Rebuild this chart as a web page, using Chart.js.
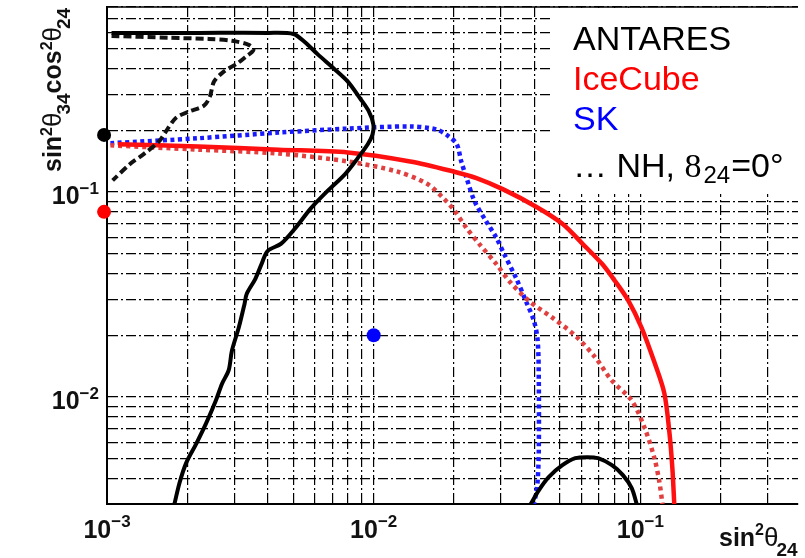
<!DOCTYPE html>
<html>
<head>
<meta charset="utf-8">
<script src="https://cdn.jsdelivr.net/npm/chart.js@4.4.1/dist/chart.umd.min.js"></script>
<style>
  html, body { margin: 0; padding: 0; background: #fff; }
  canvas { display: block; }
</style>
</head>
<body>
<canvas id="chart" width="805" height="558"></canvas>
<script>
// values (log-log)
const antaresX = [0.00104, 0.0022, 0.0040, 0.0050, 0.0055, 0.0062, 0.0071, 0.0080, 0.0089, 0.0096, 0.00997, 0.0099, 0.0095, 0.0087, 0.0078, 0.0067, 0.0058, 0.0051, 0.0045, 0.0040, 0.0038, 0.0036, 0.00334, 0.00328, 0.00312, 0.00294, 0.00286, 0.0027, 0.00256, 0.00235, 0.00216, 0.00198, 0.00187, 0.00179];
const antaresY = [0.598, 0.598, 0.598, 0.591, 0.541, 0.467, 0.400, 0.346, 0.286, 0.247, 0.214, 0.191, 0.171, 0.146, 0.122, 0.101, 0.083, 0.067, 0.056, 0.0515, 0.0446, 0.0377, 0.0318, 0.0285, 0.0218, 0.0168, 0.0135, 0.0116, 0.0096, 0.0074, 0.0059, 0.00475, 0.0038, 0.0030];

const arcX = [0.0388, 0.0416, 0.0453, 0.0510, 0.0570, 0.0632, 0.0694, 0.0782, 0.0860, 0.0928, 0.0969];
const arcY = [0.0030, 0.0035, 0.00406, 0.00464, 0.00502, 0.00508, 0.00502, 0.00464, 0.00415, 0.00359, 0.0030];

const nhX = [0.00104, 0.00171, 0.00241, 0.00294, 0.0034, 0.00354, 0.00331, 0.00307, 0.00274, 0.00252, 0.00243, 0.00231, 0.00203, 0.00182, 0.00169, 0.00157, 0.00138, 0.00122, 0.00105];
const nhY = [0.578, 0.566, 0.559, 0.547, 0.523, 0.494, 0.457, 0.423, 0.387, 0.346, 0.292, 0.264, 0.247, 0.231, 0.204, 0.177, 0.154, 0.137, 0.114];

const skX = [0.00103, 0.0022, 0.0044, 0.0080, 0.0137, 0.0172, 0.0191, 0.0205, 0.0213, 0.0223, 0.0239, 0.0264, 0.0288, 0.0308, 0.0342, 0.0372, 0.0399, 0.0412, 0.0416, 0.0416, 0.0412, 0.0405, 0.0399];
const skY = [0.173, 0.183, 0.195, 0.204, 0.209, 0.202, 0.187, 0.171, 0.141, 0.117, 0.090, 0.072, 0.060, 0.050, 0.038, 0.0294, 0.0235, 0.0188, 0.0120, 0.0055, 0.0039, 0.0033, 0.0030];

const icX = [0.0011, 0.0022, 0.0044, 0.0080, 0.0137, 0.0199, 0.0243, 0.0306, 0.0405, 0.0510, 0.0606, 0.0718, 0.0803, 0.0897, 0.101, 0.113, 0.123, 0.1285, 0.1318, 0.134];
const icY = [0.171, 0.167, 0.161, 0.156, 0.141, 0.126, 0.117, 0.103, 0.085, 0.070, 0.056, 0.0446, 0.0368, 0.0298, 0.0218, 0.0147, 0.0104, 0.0067, 0.0045, 0.0030];

const icNhX = [0.00103, 0.0022, 0.0044, 0.0080, 0.0122, 0.0158, 0.0183, 0.0201, 0.0223, 0.0249, 0.0288, 0.0322, 0.0382, 0.0469, 0.0570, 0.0677, 0.0782, 0.0928, 0.104, 0.113, 0.118, 0.121];
const icNhY = [0.169, 0.161, 0.154, 0.141, 0.126, 0.110, 0.093, 0.081, 0.0666, 0.0557, 0.0446, 0.0368, 0.0294, 0.0243, 0.0199, 0.0156, 0.0120, 0.0096, 0.0070, 0.0050, 0.0038, 0.0030];

// best fit points (ANTARES, IceCube, SK)
const dotX = [0.000975, 0.000975, 0.01];
const dotY = [0.19, 0.08, 0.02];
const dotColors = ['#000000', '#ff0000', '#0000ff'];

// grid + tick labels
const xGrid = [0.001, 0.002, 0.003, 0.004, 0.005, 0.006, 0.007, 0.008, 0.009,
               0.01, 0.02, 0.03, 0.04, 0.05, 0.06, 0.07, 0.08, 0.09, 0.1, 0.2, 0.3];
const yGrid = [0.003, 0.004, 0.005, 0.006, 0.007, 0.008, 0.009,
               0.01, 0.02, 0.03, 0.04, 0.05, 0.06, 0.07, 0.08, 0.09,
               0.1, 0.2, 0.3, 0.4, 0.5, 0.6, 0.7, 0.8];
const xMajor = [0.001, 0.01, 0.1];
const xMajorExp = ['\u22123', '\u22122', '\u22121'];
const yMajor = [0.01, 0.1];
const yMajorExp = ['\u22122', '\u22121'];

const legendText = ['ANTARES', 'IceCube', 'SK'];
const legendColors = ['#000000', '#ff0000', '#0000ff'];

function pts(xs, ys) {
    return xs.map((x, i) => ({ x: x, y: ys[i] }));
}

function line(data, color, width, dash) {
    return {
        type: 'line',
        data: data,
        borderColor: color,
        borderWidth: width,
        borderDash: dash || [],
        pointRadius: 0,
        fill: false,
        tension: 0.3
    };
}

const sans = "'Liberation Sans', Arial, sans-serif";

// text drawn by hand: superscripts, legend box, titles
const decorations = {
    id: 'decorations',
    beforeDatasetsDraw(chart) {
        const ctx = chart.ctx;
        const a = chart.chartArea;
        ctx.save();
        ctx.fillStyle = '#ffffff';
        ctx.fillRect(553, a.top + 1, a.right - 553, 193 - a.top);
        ctx.strokeStyle = '#000';
        ctx.lineWidth = 1.5;
        ctx.beginPath();
        ctx.moveTo(a.left, a.top);
        ctx.lineTo(a.right, a.top);
        ctx.stroke();
        ctx.restore();
    },
    afterDraw(chart) {
        const ctx = chart.ctx;
        const xs = chart.scales.x, ys = chart.scales.y;
        ctx.save();
        ctx.fillStyle = '#111';
        ctx.textBaseline = 'alphabetic';

        // x tick labels
        xMajor.forEach((v, i) => {
            const px = xs.getPixelForValue(v);
            ctx.font = 'bold 25px ' + sans;
            const w1 = ctx.measureText('10').width;
            ctx.font = 'bold 17px ' + sans;
            const w2 = ctx.measureText(xMajorExp[i]).width;
            const x0 = px - (w1 + w2) / 2;
            ctx.font = 'bold 25px ' + sans;
            ctx.fillText('10', x0, 538);
            ctx.font = 'bold 17px ' + sans;
            ctx.fillText(xMajorExp[i], x0 + w1, 527);
        });

        // y tick labels
        yMajor.forEach((v, i) => {
            const py = ys.getPixelForValue(v);
            ctx.font = 'bold 17px ' + sans;
            const w2 = ctx.measureText(yMajorExp[i]).width;
            ctx.font = 'bold 25px ' + sans;
            const w1 = ctx.measureText('10').width;
            const x0 = 99 - w1 - w2;
            ctx.fillText('10', x0, py + 12);
            ctx.font = 'bold 17px ' + sans;
            ctx.fillText(yMajorExp[i], x0 + w1, py + 2);
        });

        // axis titles
        const title = [
            ['sin', 'bold 25px ' + sans, 0],
            ['2', 'bold 16px ' + sans, -9],
            ['\u03b8', '26px ' + sans, 0],
            ['34', 'bold 19px ' + sans, 9],
            ['cos', 'bold 25px ' + sans, 0],
            ['2', 'bold 16px ' + sans, -9],
            ['\u03b8', '26px ' + sans, 0],
            ['24', 'bold 19px ' + sans, 9]
        ];
        ctx.save();
        ctx.translate(61, 172);
        ctx.rotate(-Math.PI / 2);
        let cx = 0;
        title.forEach(p => {
            ctx.font = p[1];
            ctx.fillText(p[0], cx, p[2]);
            cx += ctx.measureText(p[0]).width - (p[0] === '\u03b8' ? 2 : 0);
        });
        ctx.restore();

        const xTitle = [
            ['sin', 'bold 25px ' + sans, 0],
            ['2', 'bold 16px ' + sans, -11],
            ['\u03b8', '26px ' + sans, 0],
            ['24', 'bold 19px ' + sans, 10]
        ];
        cx = 719;
        xTitle.forEach(p => {
            ctx.font = p[1];
            ctx.fillText(p[0], cx, 546 + p[2]);
            cx += ctx.measureText(p[0]).width - (p[0] === '\u03b8' ? 2 : 0);
        });

        // legend
        ctx.font = '34px ' + sans;
        legendText.forEach((t, i) => {
            ctx.fillStyle = legendColors[i];
            ctx.fillText(t, 573, 50 + i * 40);
        });
        ctx.fillStyle = '#000';
        let lx = 573;
        ctx.font = '34px ' + sans;
        ctx.fillText('\u2026 NH,', lx, 177);
        lx += ctx.measureText('\u2026 NH, ').width;
        ctx.font = "34px 'Liberation Serif', serif";
        ctx.fillText('8', lx, 177);
        lx += ctx.measureText('8').width + 2;
        ctx.font = '24px ' + sans;
        ctx.fillText('24', lx, 183);
        lx += ctx.measureText('24').width + 1;
        ctx.font = '34px ' + sans;
        ctx.fillText('=0\u00b0', lx, 177);
        ctx.restore();
    }
};

const gridOpts = { color: '#000000', lineWidth: 1.2, drawTicks: false };
const borderOpts = { display: true, color: '#000', width: 2, dash: [10, 3, 2, 3] };

// one dataset per fit point so none gets dropped at the axis edge
const dotSets = dotX.map((x, i) => ({
    type: 'scatter',
    data: [{ x: x, y: dotY[i] }],
    pointRadius: 7,
    pointBackgroundColor: dotColors[i],
    pointBorderWidth: 0,
    clip: false
}));

new Chart(document.getElementById('chart'), {
    type: 'line',
    data: {
        datasets: [
            line(pts(antaresX, antaresY), '#000000', 4),
            line(pts(arcX, arcY), '#000000', 4),
            line(pts(nhX, nhY), '#111111', 4, [8, 4]),
            line(pts(icX, icY), '#ff1010', 4.5),
            line(pts(icNhX, icNhY), '#e04040', 4.5, [4, 4]),
            line(pts(skX, skY), '#1a1aff', 4.5, [4, 3.5]),
            ...dotSets
        ]
    },
    options: {
        responsive: false,
        animation: false,
        layout: { padding: { left: 107, top: 5, right: 0, bottom: 54 } },
        plugins: { legend: { display: false }, tooltip: { enabled: false } },
        scales: {
            x: {
                type: 'logarithmic',
                min: 0.001,
                max: 0.39,
                afterBuildTicks: (scale) => { scale.ticks = xGrid.map(v => ({ value: v })); },
                ticks: { display: false },
                grid: gridOpts,
                border: borderOpts
            },
            y: {
                type: 'logarithmic',
                min: 0.003,
                max: 0.8,
                afterBuildTicks: (scale) => { scale.ticks = yGrid.map(v => ({ value: v })); },
                ticks: { display: false },
                grid: gridOpts,
                border: borderOpts
            }
        }
    },
    plugins: [decorations]
});
</script>
</body>
</html>
